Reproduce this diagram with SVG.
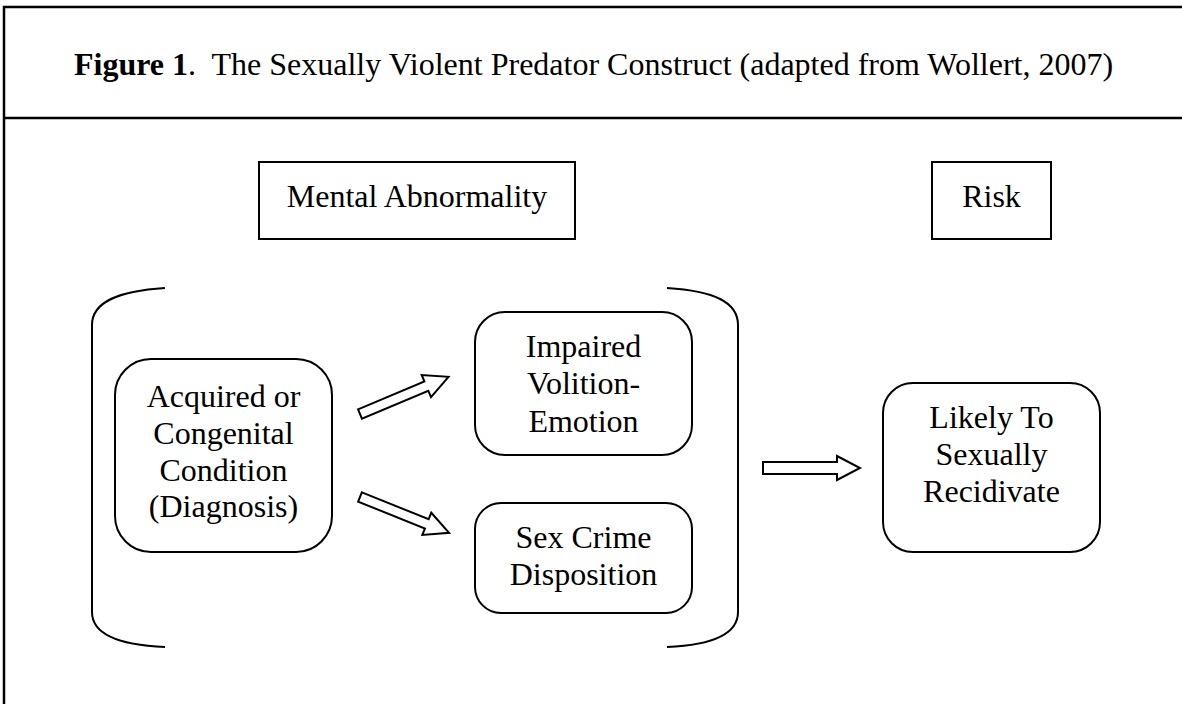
<svg xmlns="http://www.w3.org/2000/svg" width="1182" height="704" viewBox="0 0 1182 704">
<style>
  text { font-family: "Liberation Serif", "Times New Roman", serif; font-size: 32px; fill: #000; }
  .c { text-anchor: middle; }
  .box { fill: #fff; stroke: #000; stroke-width: 2; }
  .frame { fill: none; stroke: #000; stroke-width: 2.5; }
  .br { fill: none; stroke: #000; stroke-width: 2; }
  .arr { fill: #fff; stroke: #000; stroke-width: 2; stroke-linejoin: miter; }
</style>
<defs>
  <path id="darrow" d="M0,-5 H72 V-12 L96,0 L72,12 V5 H0 Z"/>
  <path id="harrow" d="M0,-6 H74 V-12 L97,0 L74,12 V6 H0 Z"/>
</defs>
<rect width="1182" height="704" fill="#fff"/>
<g id="frame">
  <path class="frame" d="M1184,7 H4 V706"/>
  <line class="frame" x1="4" y1="118" x2="1184" y2="118"/>
</g>
<g id="title">
  <text x="74" y="75"><tspan font-weight="bold">Figure 1</tspan>.&#160; The Sexually Violent Predator Construct (adapted from Wollert, 2007)</text>
</g>
<g id="mental">
  <rect class="box" x="259" y="162" width="316" height="77"/>
  <text class="c" x="417" y="207">Mental Abnormality</text>
</g>
<g id="risk">
  <rect class="box" x="932" y="162" width="119" height="77"/>
  <text class="c" x="991.5" y="207">Risk</text>
</g>
<g id="brackets">
  <path class="br" d="M165,288 C118,291 92,302 92,325 V612 C92,634 118,645 165,647"/>
  <path class="br" d="M667,288 C714,291 738,302 738,325 V612 C738,634 714,645 667,647"/>
</g>
<g id="acquired">
  <rect class="box" x="115" y="359" width="217" height="193" rx="36"/>
  <text class="c" x="223.5" y="407">Acquired or</text>
  <text class="c" x="223.5" y="444">Congenital</text>
  <text class="c" x="223.5" y="481">Condition</text>
  <text class="c" x="223.5" y="517">(Diagnosis)</text>
</g>
<g id="impaired">
  <rect class="box" x="475" y="312" width="217" height="143" rx="30"/>
  <text class="c" x="583.5" y="357">Impaired</text>
  <text class="c" x="583.5" y="394">Volition-</text>
  <text class="c" x="583.5" y="432">Emotion</text>
</g>
<g id="sexcrime">
  <rect class="box" x="475" y="503" width="217" height="110" rx="26"/>
  <text class="c" x="583.5" y="548">Sex Crime</text>
  <text class="c" x="583.5" y="585">Disposition</text>
</g>
<g id="likely">
  <rect class="box" x="883" y="383" width="217" height="169" rx="30"/>
  <text class="c" x="991.5" y="428">Likely To</text>
  <text class="c" x="991.5" y="465">Sexually</text>
  <text class="c" x="991.5" y="502">Recidivate</text>
</g>
<g id="connectors">
  <use class="arr" href="#darrow" transform="translate(360,414) rotate(-22.8)"/>
  <use class="arr" href="#darrow" transform="translate(360,497) rotate(21.9)"/>
  <use class="arr" href="#harrow" transform="translate(763,468)"/>
</g>
</svg>
